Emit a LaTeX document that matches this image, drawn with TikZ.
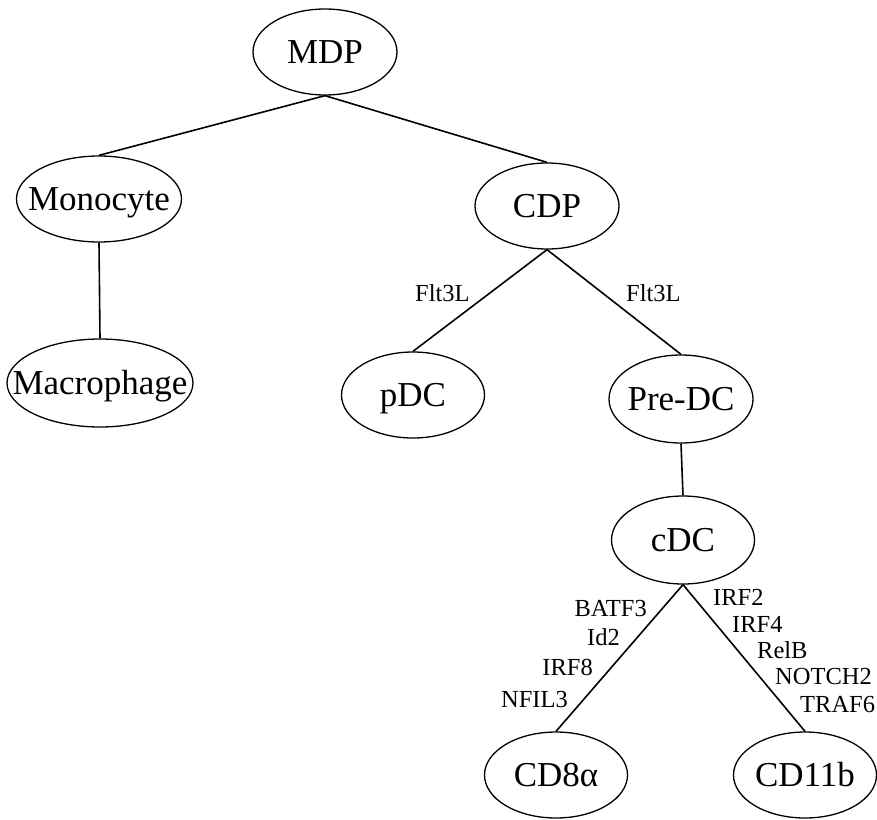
\documentclass[tikz,border=0pt]{standalone}
\usepackage{fontspec}
\setmainfont{Liberation Serif}
\usetikzlibrary{shapes.geometric}
\newcommand{\celltext}[1]{\makebox[0pt]{\raisebox{-0.33em}{#1}}}
\begin{document}
\begin{tikzpicture}[x=1pt,y=-1pt,
  cell/.style={draw,ellipse,line width=1.3pt,inner sep=0pt,font=\fontsize{35}{40}\selectfont,text height=0pt,text depth=0pt,text width=0pt,align=center},
  link/.style={line width=1.6pt},
  lab/.style={font=\fontsize{24.5}{28}\selectfont,inner sep=0pt}]
\useasboundingbox (0,0) rectangle (877,819);
\node[cell,minimum width=144pt,minimum height=86pt] (mdp) at (325,52) {\celltext{MDP}};
\node[cell,minimum width=165pt,minimum height=86pt] (mono) at (99,199) {\celltext{Monocyte}};
\node[cell,minimum width=144pt,minimum height=86pt] (cdp) at (547,206) {\celltext{CDP}};
\node[cell,minimum width=186pt,minimum height=88pt] (macro) at (100,383) {\celltext{Macrophage}};
\node[cell,minimum width=143pt,minimum height=86pt] (pdc) at (413,395) {\celltext{pDC}};
\node[cell,minimum width=144pt,minimum height=88pt] (predc) at (681,399) {\celltext{Pre-DC}};
\node[cell,minimum width=143pt,minimum height=88pt] (cdc) at (683,540) {\celltext{cDC}};
\node[cell,minimum width=143pt,minimum height=86pt] (cd8) at (556,775) {\celltext{CD8α}};
\node[cell,minimum width=143pt,minimum height=86pt] (cd11) at (805,775) {\celltext{CD11b}};
\draw[link] (mdp.south) -- (mono.north);
\draw[link] (mdp.south) -- (cdp.north);
\draw[link] (mono.south) -- (macro.north);
\draw[link] (cdp.south) -- (pdc.north);
\draw[link] (cdp.south) -- (predc.north);
\draw[link] (predc.south) -- (cdc.north);
\draw[link] (cdc.south) -- (cd8.north);
\draw[link] (cdc.south) -- (cd11.north);
\node[lab,anchor=base west] (f1) at (415,301) {Flt3L};
\node[lab,anchor=base west] (f2) at (626,301) {Flt3L};
\node[lab,anchor=base east] (l1) at (647,616) {BATF3};
\node[lab,anchor=base east] (l2) at (620,645) {Id2};
\node[lab,anchor=base east] (l3) at (593,675) {IRF8};
\node[lab,anchor=base east] (l4) at (568,707) {NFIL3};
\node[lab,anchor=base west] (r1) at (713,605) {IRF2};
\node[lab,anchor=base west] (r2) at (732,632) {IRF4};
\node[lab,anchor=base west] (r3) at (757,658) {RelB};
\node[lab,anchor=base west] (r4) at (775,684) {NOTCH2};
\node[lab,anchor=base west] (r5) at (800,712) {TRAF6};
\end{tikzpicture}
\end{document}
